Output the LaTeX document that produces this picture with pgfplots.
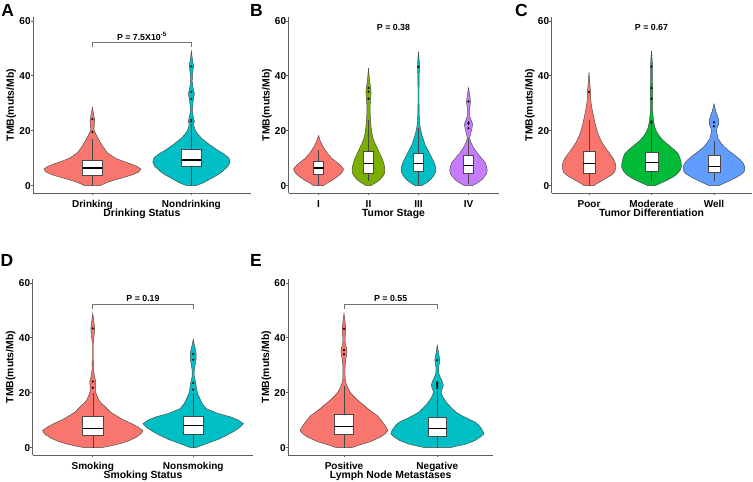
\documentclass[border=0pt]{standalone}
\usepackage{fontspec}
\setmainfont{Liberation Sans}
\usepackage{pgfplots}
\pgfplotsset{compat=1.18}
\usepackage{pgfplotstable}

\definecolor{cR}{HTML}{F8766D}
\definecolor{cC}{HTML}{00BFC4}
\definecolor{cO}{HTML}{7CAE00}
\definecolor{cP}{HTML}{C77CFF}
\definecolor{cG}{HTML}{00BA38}
\definecolor{cB}{HTML}{619CFF}
\colorlet{vline}{black!72}
\colorlet{axcol}{black!62}

\newcommand\tfont{\fontsize{10}{12}\selectfont\bfseries}
\newcommand\lfont{\fontsize{10.4}{12}\selectfont\bfseries}
\newcommand\pfont{\fontsize{8.8}{10}\selectfont\bfseries}

% one-sided table (y, half-width w) -> closed outline column s
\newcommand\mkviolin[1]{%
  \pgfplotstablesort[sort key=y, sort cmp=float >]{\vtmp}{#1}%
  \pgfplotstablecreatecol[create col/expr={\thisrow{w}}]{s}{#1}%
  \pgfplotstablecreatecol[create col/expr={-\thisrow{w}}]{s}{\vtmp}%
  \pgfplotstablevertcat{#1}{\vtmp}%
}

% ---------- violin outlines: y and half-width w (category units) ----------
\pgfplotstableread{
y w
0 0.08
1 0.14
2 0.22
3 0.32
4 0.41
5 0.47
6 0.49
7 0.45
8 0.38
9 0.30
10 0.23
11 0.19
12 0.15
14 0.11
16 0.075
18 0.045
19.5 0.025
20.5 0.015
22 0.02
24 0.023
26 0.012
28.5 0
}\vAa
\pgfplotstableread{
y w
0 0.05
1 0.12
2 0.17
3 0.22
4 0.27
5 0.31
6 0.34
7 0.37
8.5 0.39
10 0.38
11.5 0.33
13 0.26
15 0.18
17 0.11
18.5 0.07
20 0.04
22 0.023
23.5 0.03
25 0.02
27 0.01
30 0.015
33.5 0.03
36 0.015
38 0.008
41 0.012
43.5 0.022
46 0.01
49 0
}\vAb
\pgfplotstableread{
y w
0 0.10
1 0.18
2 0.28
3 0.36
4 0.43
5 0.48
6 0.50
7 0.46
8 0.40
9 0.33
10 0.26
11.5 0.19
13 0.13
14.5 0.08
16 0.04
17.5 0.014
18.2 0
}\vBa
\pgfplotstableread{
y w
0 0.05
1 0.14
2 0.22
3 0.27
4 0.31
5.5 0.33
7 0.32
8.5 0.30
10 0.27
11.5 0.23
13.5 0.18
15 0.14
17 0.094
19 0.07
21 0.054
23 0.044
26 0.034
29 0.032
32 0.044
34 0.052
36 0.04
38.5 0.02
42.8 0
}\vBb
\pgfplotstableread{
y w
0 0.07
1 0.16
2 0.23
3 0.28
4 0.32
5.5 0.35
7 0.34
8.5 0.31
10 0.27
11.5 0.23
13.5 0.17
15 0.13
17 0.094
19 0.06
21 0.036
23 0.022
26 0.014
30 0.01
35 0.01
40 0.012
43.4 0.024
46 0.012
48.8 0
}\vBc
\pgfplotstableread{
y w
0 0.08
1 0.18
2 0.26
3 0.31
4 0.35
5.5 0.376
7 0.36
8.5 0.33
10 0.26
11.5 0.19
13 0.13
14.5 0.08
16 0.04
17.5 0.024
19 0.044
21 0.072
22.5 0.08
24 0.05
25.5 0.02
27 0.016
29 0.03
30.5 0.04
32.5 0.028
35.6 0
}\vBd
\pgfplotstableread{
y w
0 0.08
1 0.144
2 0.224
3 0.30
4 0.37
5 0.41
6.5 0.43
8 0.424
10 0.384
12 0.32
14 0.256
16 0.20
18 0.16
20 0.128
22 0.104
24.5 0.08
27 0.056
29.5 0.037
32 0.026
34 0.024
36.5 0.016
41.3 0
}\vCa
\pgfplotstableread{
y w
0 0.064
1 0.16
2 0.256
3 0.336
4 0.40
5.5 0.456
7 0.48
8.5 0.472
10 0.456
11.5 0.432
13 0.368
14.5 0.288
16 0.208
17.5 0.144
19 0.096
21 0.056
23 0.037
26 0.021
29 0.016
32 0.019
35.5 0.019
40 0.013
43.3 0.016
46 0.01
49 0
}\vCb
\pgfplotstableread{
y w
0 0.08
1 0.176
2 0.272
3 0.36
4 0.432
5 0.48
6.5 0.496
8 0.472
9.5 0.416
11 0.336
12.5 0.248
14 0.168
15.5 0.112
17 0.069
19 0.045
20.5 0.04
22 0.069
23.5 0.08
25 0.06
27 0.029
29.8 0
}\vCc
\pgfplotstableread{
y w
0 0.09
0.7 0.19
1.5 0.28
2.5 0.36
3.5 0.42
5 0.48
6.2 0.50
7.5 0.45
8.7 0.39
10 0.31
11.7 0.23
13 0.175
14.8 0.127
16 0.09
17.3 0.06
19 0.04
20.3 0.027
22 0.025
23.9 0.03
26 0.017
28 0.008
32 0.005
38 0.005
41.5 0.015
43.4 0.02
45.5 0.012
48.9 0
}\vDa
\pgfplotstableread{
y w
0 0.03
1.4 0.13
3 0.25
4.4 0.33
6 0.41
7.5 0.47
8.7 0.50
10 0.45
11.2 0.37
12.5 0.24
14.2 0.13
16 0.09
17.8 0.067
19.5 0.045
21.5 0.033
23.5 0.026
26 0.01
28 0.01
30 0.018
32 0.028
33.6 0.03
35.5 0.024
37.5 0.01
39.4 0
}\vDb
\pgfplotstableread{
y w
0 0.086
1 0.17
2 0.27
3 0.34
4 0.40
5 0.44
6.2 0.47
7.5 0.45
9 0.42
10.5 0.386
11.7 0.354
13 0.30
14.5 0.246
16 0.193
17.5 0.14
19 0.096
20.3 0.064
22 0.0375
24 0.016
26 0.011
29 0.011
32 0.018
34 0.029
35.5 0.032
37 0.021
38.5 0.011
41 0.014
43.4 0.021
45.5 0.013
48.9 0
}\vEa
\pgfplotstableread{
y w
0 0.14
1.3 0.31
2.5 0.40
3.8 0.46
5 0.50
6.5 0.48
8 0.45
9.2 0.41
10.5 0.33
11.7 0.26
12.9 0.20
14.5 0.15
16 0.11
17.2 0.083
18.8 0.054
20.3 0.04
21.5 0.054
22.7 0.064
24 0.054
25.5 0.032
27 0.016
29 0.013
30.5 0.021
31.9 0.027
34 0.016
37.3 0
}\vEb

\mkviolin{\vAa}\mkviolin{\vAb}
\mkviolin{\vBa}\mkviolin{\vBb}\mkviolin{\vBc}\mkviolin{\vBd}
\mkviolin{\vCa}\mkviolin{\vCb}\mkviolin{\vCc}
\mkviolin{\vDa}\mkviolin{\vDb}
\mkviolin{\vEa}\mkviolin{\vEb}

% ---------- helpers ----------
\newcommand{\violin}[3]{%
  \addplot[fill=#3, draw=vline, line width=0.45pt] table[x expr=#1+\thisrow{s}, y=y]{#2} -- cycle;
}
\newcommand{\bxp}[6]{% position, lower whisker, q1, median, q3, upper whisker
  \addplot[vline, line width=0.5pt] table[row sep=\\, x expr=#1, y=y] {y\\ #2\\ #3\\};
  \addplot[vline, line width=0.5pt] table[row sep=\\, x expr=#1, y=y] {y\\ #5\\ #6\\};
  \addplot[draw=vline, fill=white, line width=0.5pt] table[row sep=\\, x expr=#1+\thisrow{d}, y=y]
     {d y\\ -0.1 #3\\ 0.1 #3\\ 0.1 #5\\ -0.1 #5\\} -- cycle;
  \addplot[black, line width=1.1pt] table[row sep=\\, x expr=#1+\thisrow{d}, y=y]
     {d y\\ -0.1 #4\\ 0.1 #4\\};
}
\newcommand{\outl}[1]{\addplot[only marks, mark=*, mark size=0.85pt, black] coordinates {#1};}
\newcommand{\brk}[2]{\addplot[black!55, line width=0.55pt] coordinates {(#1,50.6)(#1,52.1)(#2,52.1)(#2,50.6)};}

\pgfplotsset{
  panel/.style={
    scale only axis, height=176pt,
    ymin=-2.7, ymax=61.4,
    axis lines=left,
    axis line style={-, axcol, line width=0.7pt},
    ytick={0,20,40,60},
    tick align=outside,
    major tick length=2.5pt,
    tick style={axcol, line width=0.6pt},
    ticklabel style={font=\tfont, text=black},
    /pgf/number format/assume math mode=true,
    xticklabel style={anchor=base, inner sep=0pt, yshift=-12pt},
    yticklabel style={anchor=east, inner sep=0pt, xshift=0.3pt},
    ylabel={TMB(muts/Mb)},
    label style={font=\lfont},
    xlabel style={at={(axis description cs:0.5,0)}, anchor=base, inner sep=0pt, yshift=-23.5pt},
    ylabel style={at={([xshift=-19pt]axis description cs:0,0.5)}, anchor=base, inner sep=0pt},
    clip=false,
  },
}

\begin{document}
\begin{tikzpicture}[x=1pt,y=1pt]
\useasboundingbox (0,0) rectangle (753,482);

% ---------------- A ----------------
\begin{axis}[panel, at={(33pt,289pt)}, anchor=south west, width=217.8pt,
  xmin=0.4, xmax=2.6, xtick={1,2}, xticklabels={Drinking,Nondrinking},
  xlabel={Drinking Status}]
\violin{1}{\vAa}{cR}
\violin{2}{\vAb}{cC}
\bxp{1}{0}{3.9}{6.4}{9.2}{17}
\bxp{2}{0}{7.0}{9.3}{13.3}{22.5}
\outl{(1,19.5)(1,24.2)(2,23.4)(2,23.9)(2,31.6)(2,34.1)(2,43.4)}
\brk{1}{2}
\node[font=\pfont, anchor=base] at (axis cs:1.5,53.0) {P = 7.5X10\textsuperscript{-5}};
\end{axis}

% ---------------- B ----------------
\begin{axis}[panel, at={(288.5pt,289pt)}, anchor=south west, width=210pt,
  xmin=0.4, xmax=4.6, xtick={1,2,3,4}, xticklabels={I,II,III,IV},
  xlabel={Tumor Stage}]
\violin{1}{\vBa}{cR}
\violin{2}{\vBb}{cO}
\violin{3}{\vBc}{cC}
\violin{4}{\vBd}{cP}
\bxp{1}{0}{4.0}{6.4}{8.8}{13}
\bxp{2}{1.5}{4.6}{8.0}{12.5}{24}
\bxp{3}{0}{5.4}{8.2}{11.8}{21}
\bxp{4}{0.5}{4.4}{7.3}{11.2}{17.5}
\outl{(2,31.6)(2,34.2)(2,35.5)(3,43.3)(4,20.9)(4,22.5)(4,23.1)(4,30.6)}
\node[font=\pfont, anchor=base] at (axis cs:2.5,56.4) {P = 0.38};
\end{axis}

% ---------------- C ----------------
\begin{axis}[panel, at={(551.5pt,289pt)}, anchor=south west, width=200pt,
  xmin=0.4, xmax=3.6, xtick={1,2,3}, xticklabels={Poor,Moderate,Well},
  xlabel={Tumor Differentiation}]
\violin{1}{\vCa}{cR}
\violin{2}{\vCb}{cG}
\violin{3}{\vCc}{cB}
\bxp{1}{0}{4.6}{8.0}{12.5}{24}
\bxp{2}{1.5}{5.3}{8.5}{12.2}{22}
\bxp{3}{1.5}{5.0}{7.0}{11.2}{16.2}
\outl{(1,34.1)(2,22.8)(2,23.3)(2,31.6)(2,35.5)(2,43.3)(3,21.6)(3,23.1)}
\node[font=\pfont, anchor=base] at (axis cs:2,56.4) {P = 0.67};
\end{axis}

% ---------------- D ----------------
\begin{axis}[panel, at={(32.5pt,27pt)}, anchor=south west, width=221pt,
  xmin=0.4, xmax=2.6, xtick={1,2}, xticklabels={Smoking,Nonsmoking},
  xlabel={Smoking Status}]
\violin{1}{\vDa}{cR}
\violin{2}{\vDb}{cC}
\bxp{1}{0}{4.4}{6.8}{11.4}{20}
\bxp{2}{0}{5.0}{8.1}{11.5}{20}
\outl{(1,21.8)(1,24.1)(1,43.4)(2,21.1)(2,23.5)(2,32.0)(2,34.1)}
\brk{1}{2}
\node[font=\pfont, anchor=base] at (axis cs:1.5,53.3) {P = 0.19};
\end{axis}

% ---------------- E ----------------
\begin{axis}[panel, at={(288pt,27pt)}, anchor=south west, width=205.3pt,
  xmin=0.4, xmax=2.6, xtick={1,2}, xticklabels={Positive,Negative},
  xlabel={Lymph Node Metastases}]
\violin{1}{\vEa}{cR}
\violin{2}{\vEb}{cC}
\bxp{1}{0}{5.0}{7.8}{12.0}{22.5}
\bxp{2}{0}{4.0}{7.1}{10.9}{20.5}
\outl{(1,34.0)(1,35.5)(1,43.3)(2,21.6)(2,22.2)(2,22.8)(2,23.3)(2,23.8)(2,31.8)}
\brk{1}{2}
\node[font=\pfont, anchor=base] at (axis cs:1.5,53.2) {P = 0.55};
\end{axis}

% panel letters
\begin{scope}[every node/.style={font=\fontsize{17.5}{20}\selectfont\bfseries, anchor=base west, inner sep=0pt}]
\node at (1.2,465.3) {A};
\node at (250,465.3) {B};
\node at (515,465.3) {C};
\node at (0.5,215.3) {D};
\node at (250,215.3) {E};
\end{scope}
\end{tikzpicture}
\end{document}
